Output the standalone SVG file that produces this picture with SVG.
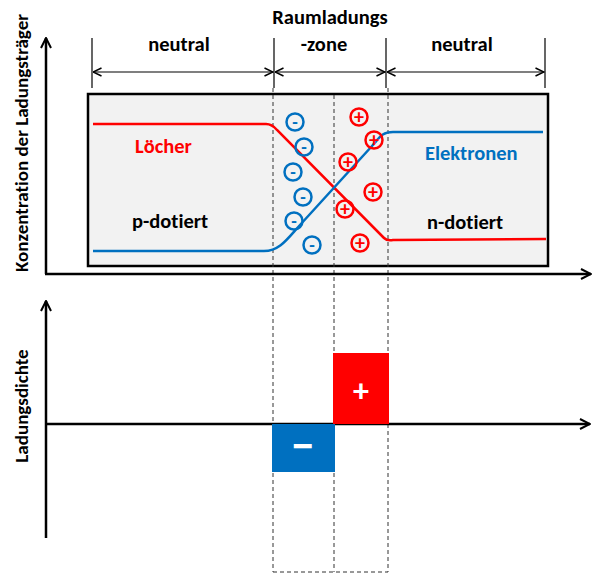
<svg xmlns="http://www.w3.org/2000/svg" width="593" height="574" viewBox="0 0 593 574">
<style>
.t{font-family:"Carlito","Lato","Liberation Sans",sans-serif;font-weight:bold;font-variant-ligatures:none;}
.ax{stroke:#000;stroke-width:2.5;fill:none;}
.dim{stroke:#000;stroke-width:1.2;fill:none;}
.dash{stroke:#333;stroke-width:1;stroke-dasharray:4,3;fill:none;}
.bc{fill:none;stroke:#0070c0;stroke-width:2.5;}
.rc{fill:none;stroke:#ff0000;stroke-width:2.5;}
.bs{fill:#0070c0;font-size:18px;text-anchor:middle;}
.rs{fill:#ff0000;font-size:20px;text-anchor:middle;}
.lbl{font-size:20.5px;}
</style>
<defs>
<marker id="ah" viewBox="0 0 12 12" refX="11" refY="6" markerWidth="12" markerHeight="12" markerUnits="userSpaceOnUse" orient="auto">
<path d="M1,1 L11,6 L1,11" fill="none" stroke="#000" stroke-width="2"/>
</marker>
<marker id="dh" viewBox="0 0 10 10" refX="9.5" refY="5" markerWidth="10" markerHeight="10" markerUnits="userSpaceOnUse" orient="auto-start-reverse">
<path d="M1,1 L9.5,5 L1,9" fill="none" stroke="#000" stroke-width="1.5"/>
</marker>
</defs>
<rect width="593" height="574" fill="#fff"/>

<g id="box">
<rect x="88" y="94" width="460" height="172" fill="#f2f2f2" stroke="#000" stroke-width="2.5"/>
</g>

<g id="connectors">
<line class="dash" x1="273" y1="88" x2="273" y2="572"/>
<line class="dash" x1="334" y1="95" x2="334" y2="572"/>
<line class="dash" x1="388" y1="88" x2="388" y2="572"/>
<line class="dash" x1="273" y1="572" x2="388" y2="572"/>
<line class="dim" x1="92" y1="38" x2="92" y2="88"/>
<line class="dim" x1="274" y1="38" x2="274" y2="88"/>
<line class="dim" x1="386" y1="38" x2="386" y2="88"/>
<line class="dim" x1="545" y1="38" x2="545" y2="88"/>
<line class="dim" x1="93" y1="72" x2="273" y2="72" marker-start="url(#dh)" marker-end="url(#dh)"/>
<line class="dim" x1="275" y1="72" x2="385" y2="72" marker-start="url(#dh)" marker-end="url(#dh)"/>
<line class="dim" x1="387" y1="72" x2="544" y2="72" marker-start="url(#dh)" marker-end="url(#dh)"/>
<polyline class="ax" points="46,274 46,38" marker-end="url(#ah)"/>
<polyline class="ax" points="45,274 591,274" marker-end="url(#ah)"/>
<polyline class="ax" points="46,538 46,301" marker-end="url(#ah)"/>
<polyline class="ax" points="46,424 590,424" marker-end="url(#ah)"/>
</g>

<g id="curves">
<path d="M93,124 L266,124 Q272,124 277,130 L384,238 Q387,241 393,240 L546,239" fill="none" stroke="#ff0000" stroke-width="2.5"/>
<path d="M93,251 L264,251 C280,251 288,238 300,225 L372,146 C380,137 382,132 393,132 L543,132" fill="none" stroke="#0070c0" stroke-width="2.5"/>
</g>

<g id="minus-charges">
<circle class="bc" cx="295" cy="122" r="8.5"/><text class="t bs" x="295" y="128">-</text>
<circle class="bc" cx="304" cy="147" r="8.5"/><text class="t bs" x="304" y="153">-</text>
<circle class="bc" cx="293" cy="172" r="8.5"/><text class="t bs" x="293" y="178">-</text>
<circle class="bc" cx="303" cy="197" r="8.5"/><text class="t bs" x="303" y="203">-</text>
<circle class="bc" cx="294" cy="221" r="8.5"/><text class="t bs" x="294" y="227">-</text>
<circle class="bc" cx="312" cy="245" r="8.5"/><text class="t bs" x="312" y="251">-</text>
</g>

<g id="plus-charges">
<circle class="rc" cx="359" cy="117" r="8.5"/><text class="t rs" x="359" y="124">+</text>
<circle class="rc" cx="374" cy="140" r="8.5"/><text class="t rs" x="374" y="147">+</text>
<circle class="rc" cx="348" cy="162" r="8.5"/><text class="t rs" x="348" y="169">+</text>
<circle class="rc" cx="373" cy="192" r="8.5"/><text class="t rs" x="373" y="199">+</text>
<circle class="rc" cx="345" cy="209" r="8.5"/><text class="t rs" x="345" y="216">+</text>
<circle class="rc" cx="360" cy="243" r="8.5"/><text class="t rs" x="360" y="250">+</text>
</g>

<g id="labels-top">
<text class="t lbl" x="330" y="24" text-anchor="middle" fill="#000">Raumladungs</text>
<text class="t lbl" x="179" y="51" text-anchor="middle" fill="#000">neutral</text>
<text class="t lbl" x="324" y="51" text-anchor="middle" fill="#000">-zone</text>
<text class="t lbl" x="462" y="51" text-anchor="middle" fill="#000">neutral</text>
</g>

<g id="labels-box">
<text class="t lbl" x="135" y="153" fill="#ff0000">Löcher</text>
<text class="t lbl" x="425" y="160" fill="#0070c0">Elektronen</text>
<text class="t lbl" x="132" y="228" fill="#000">p-dotiert</text>
<text class="t lbl" x="427" y="229" fill="#000">n-dotiert</text>
</g>

<g id="axis-labels">
<text class="t" transform="translate(28,143) rotate(-90)" font-size="19" text-anchor="middle" fill="#000">Konzentration der Ladungsträger</text>
<text class="t" transform="translate(28,406) rotate(-90)" font-size="19" text-anchor="middle" fill="#000">Ladungsdichte</text>
</g>

<g id="charge-density">
<rect x="272" y="424" width="63" height="48" fill="#0070c0"/>
<rect x="333" y="353" width="56" height="71" fill="#ff0000"/>
<text class="t" x="303" y="461" font-size="46" text-anchor="middle" fill="#fff">−</text>
<text class="t" x="361" y="402" font-size="32" text-anchor="middle" fill="#fff">+</text>
</g>
</svg>
